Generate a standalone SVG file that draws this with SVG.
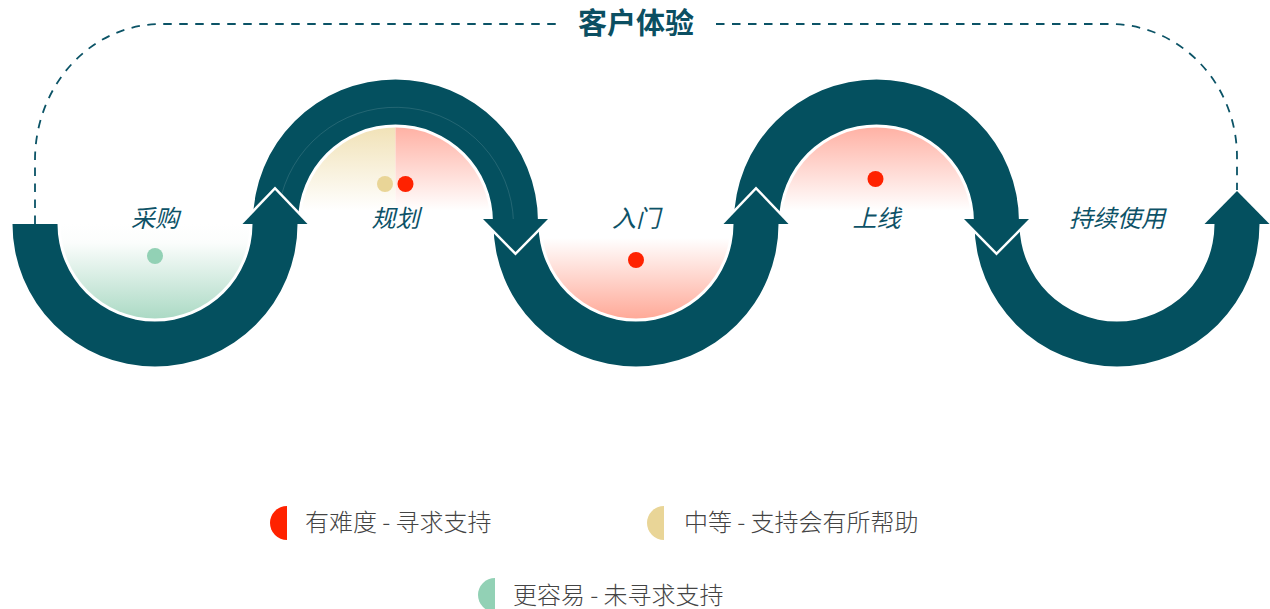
<svg xmlns="http://www.w3.org/2000/svg" width="1270" height="609" viewBox="0 0 1270 609">
<defs>
<style>
.band{fill:#04505f}
.arrow{fill:#04505f}
.chev{fill:none;stroke:#ffffff;stroke-width:5;stroke-linejoin:miter}
.lbl{font-family:"Noto Sans CJK SC","Noto Sans",sans-serif;font-size:24px;font-style:italic;fill:#0d5267;text-anchor:middle}
.leg{font-family:"Noto Sans CJK SC","Noto Sans",sans-serif;font-size:24px;font-weight:300;fill:#444444}
.red{fill:#ff2200}
.beige{fill:#e9d597}
.green{fill:#92d1b5}
</style>
<linearGradient id="gGreen" gradientUnits="userSpaceOnUse" x1="0" y1="224" x2="0" y2="318">
<stop offset="0" stop-color="#ffffff"/><stop offset="0.2" stop-color="#fbfdfc"/><stop offset="1" stop-color="#acdac5"/>
</linearGradient>
<linearGradient id="gBeige" gradientUnits="userSpaceOnUse" x1="0" y1="127" x2="0" y2="222">
<stop offset="0" stop-color="#f1e2b7"/><stop offset="0.88" stop-color="#ffffff"/>
</linearGradient>
<linearGradient id="gPinkTop" gradientUnits="userSpaceOnUse" x1="0" y1="127" x2="0" y2="222">
<stop offset="0" stop-color="#ffb1a4"/><stop offset="0.88" stop-color="#ffffff"/>
</linearGradient>
<linearGradient id="gPinkBot" gradientUnits="userSpaceOnUse" x1="0" y1="224" x2="0" y2="318">
<stop offset="0" stop-color="#ffffff"/><stop offset="0.15" stop-color="#ffffff"/><stop offset="1" stop-color="#ffaa99"/>
</linearGradient>
</defs>
<rect width="1270" height="609" fill="#ffffff"/>

<g id="title">
<text x="636" y="34" font-family="'Noto Sans CJK SC','Noto Sans',sans-serif" font-size="29" font-weight="bold" fill="#0b4f62" text-anchor="middle">客户体验</text>
</g>

<g id="stage-caigou">
<path d="M60.5,224 A94.5,94.5 0 0 0 249.5,224 Z" fill="url(#gGreen)"/>
<text class="lbl" x="155" y="227">采购</text>
<circle class="green" cx="155" cy="256" r="8"/>
</g>

<g id="stage-guihua">
<path d="M395.5,222 L301,222 A94.5,94.5 0 0 1 395.5,127.5 Z" fill="url(#gBeige)"/>
<path d="M395.5,222 L395.5,127.5 A94.5,94.5 0 0 1 490,222 Z" fill="url(#gPinkTop)"/>
<circle class="beige" cx="385" cy="184" r="8"/>
<circle class="red" cx="405.5" cy="184" r="8"/>
<text class="lbl" x="395.5" y="227">规划</text>
</g>

<g id="stage-rumen">
<path d="M541.5,224 A94.5,94.5 0 0 0 730.5,224 Z" fill="url(#gPinkBot)"/>
<text class="lbl" x="636" y="227">入门</text>
<circle class="red" cx="636" cy="260" r="8"/>
</g>

<g id="stage-shangxian">
<path d="M782,222 A94.5,94.5 0 0 1 971,222 Z" fill="url(#gPinkTop)"/>
<circle class="red" cx="875.5" cy="179" r="8"/>
<text class="lbl" x="876.5" y="227">上线</text>
</g>

<g id="stage-chixu">
<text class="lbl" x="1117" y="227">持续使用</text>
</g>

<g id="connectors">
<path d="M35,224 L35,160 A126,136 0 0 1 161,24 L556,24 M716,24 L1110,24 A127,133 0 0 1 1237,157 L1237,190" fill="none" stroke="#0b5366" stroke-width="1.8" stroke-dasharray="8.5 7.5"/>
<path class="band" d="M12.5,224 A142.5,142.5 0 0 0 297.5,224 L252.5,224 A97.5,97.5 0 0 1 57.5,224 Z"/>
<path class="band" d="M253,224 L253,222 A142.5,142.5 0 0 1 538,222 L493,222 A97.5,97.5 0 0 0 298,222 L298,224 Z"/>
<path d="M281,205 L281.5,195 A118,118 0 0 1 513.5,222 L513.5,232" fill="none" stroke="#ffffff" stroke-opacity="0.16" stroke-width="0.8"/>
<path class="band" d="M493.5,224 A142.5,142.5 0 0 0 778.5,224 L733.5,224 A97.5,97.5 0 0 1 538.5,224 Z"/>
<path class="band" d="M734,224 L734,222 A142.5,142.5 0 0 1 1019,222 L974,222 A97.5,97.5 0 0 0 779,222 L779,224 Z"/>
<path class="band" d="M974.5,224 A142.5,142.5 0 0 0 1259.5,224 L1214.5,224 A97.5,97.5 0 0 1 1019.5,224 Z"/>

<polyline class="chev" points="242.5,224 275,190 307.5,224"/>
<polygon class="arrow" points="242.5,224 275,190 307.5,224"/>
<polyline class="chev" points="483,219 515.5,252 548,219"/>
<polygon class="arrow" points="483,219 515.5,252 548,219"/>
<polyline class="chev" points="723.5,224 756,190 788.5,224"/>
<polygon class="arrow" points="723.5,224 756,190 788.5,224"/>
<polyline class="chev" points="964,219 996.5,252 1029,219"/>
<polygon class="arrow" points="964,219 996.5,252 1029,219"/>
<polygon class="arrow" points="1204.5,224 1237,191 1269.5,224"/>
</g>

<g id="legend">
<path class="red" d="M287,506 A17,17 0 0 0 287,540 Z"/>
<text class="leg" x="305" y="531">有难度 - 寻求支持</text>
<path class="beige" d="M664,506 A17,17 0 0 0 664,540 Z"/>
<text class="leg" x="684" y="531">中等 - 支持会有所帮助</text>
<path class="green" d="M495,578 A17,17 0 0 0 495,612 Z"/>
<text class="leg" x="513" y="604">更容易 - 未寻求支持</text>
</g>
</svg>
